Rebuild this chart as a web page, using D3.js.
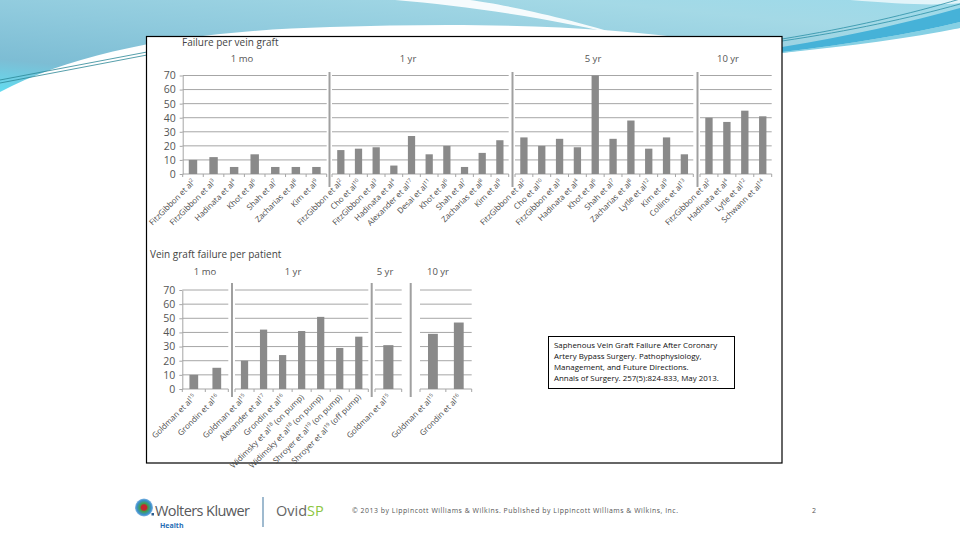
<!DOCTYPE html>
<html><head><meta charset="utf-8">
<script src="https://cdn.jsdelivr.net/npm/d3@7"></script>
<style>body{margin:0;background:#fff}svg{display:block}</style>
</head><body><svg id="c" width="960" height="540"></svg>
<script>
// ---------- DATA ----------
const yTicks = [0, 10, 20, 30, 40, 50, 60, 70];

const graftTitle = "Failure per vein graft";
const graftPanels = ["1 mo", "1 yr", "5 yr", "10 yr"];
const graft1moLabels = ["FitzGibbon et al^2", "FitzGibbon et al^3", "Hadinata et al^4", "Khot et al^6", "Shah et al^7", "Zacharias et al^8", "Kim et al^9"];
const graft1moValues = [10, 12, 5, 14, 5, 5, 5];
const graft1yrLabels = ["FitzGibbon et al^2", "Cho et al^10", "FitzGibbon et al^3", "Hadinata et al^4", "Alexander et al^17", "Desai et al^11", "Khot et al^6", "Shah et al^7", "Zacharias et al^8", "Kim et al^9"];
const graft1yrValues = [17, 18, 19, 6, 27, 14, 20, 5, 15, 24];
const graft5yrLabels = ["FitzGibbon et al^2", "Cho et al^10", "FitzGibbon et al^3", "Hadinata et al^4", "Khot et al^6", "Shah et al^7", "Zacharias et al^8", "Lytle et al^12", "Kim et al^9", "Collins et al^13"];
const graft5yrValues = [26, 20, 25, 19, 70, 25, 38, 18, 26, 14];
const graft10yrLabels = ["FitzGibbon et al^2", "Hadinata et al^4", "Lytle et al^12", "Schwann et al^14"];
const graft10yrValues = [40, 37, 45, 41];

const patientTitle = "Vein graft failure per patient";
const patientPanels = ["1 mo", "1 yr", "5 yr", "10 yr"];
const patient1moLabels = ["Goldman et al^15", "Grondin et al^16"];
const patient1moValues = [10, 15];
const patient1yrLabels = ["Goldman et al^15", "Alexander et al^17", "Grondin et al^16", "Widimsky et al^18 (on pump)", "Widimsky et al^18 (on pump)", "Shroyer et al^19 (on pump)", "Shroyer et al^19 (off pump)"];
const patient1yrValues = [20, 42, 24, 41, 51, 29, 37];
const patient5yrLabels = ["Goldman et al^15"];
const patient5yrValues = [31];
const patient10yrLabels = ["Goldman et al^15", "Grondin et al^16"];
const patient10yrValues = [39, 47];

const captionLines = [
  "Saphenous Vein Graft Failure After Coronary",
  "Artery Bypass Surgery. Pathophysiology,",
  "Management, and Future Directions.",
  "Annals of Surgery. 257(5):824-833, May 2013."
];
const copyrightText = "\u00A9 2013 by Lippincott Williams & Wilkins.  Published by Lippincott Williams & Wilkins, Inc.";
const pageNumber = "2";

// ---------- DRAW ----------
const svg = d3.select("#c");
const defs = svg.append("defs");
const FONT = "'Open Sans', 'Noto Sans', sans-serif";

// Header gradient
const hg = defs.append("linearGradient").attr("id", "hdr").attr("x1", "0").attr("y1", "1").attr("x2", "1").attr("y2", "0");
hg.append("stop").attr("offset", "0").attr("stop-color", "#62dcf0");
hg.append("stop").attr("offset", "0.18").attr("stop-color", "#7dbdd4");
hg.append("stop").attr("offset", "0.45").attr("stop-color", "#8fcadd");
hg.append("stop").attr("offset", "0.8").attr("stop-color", "#a4d9e6");
hg.append("stop").attr("offset", "1").attr("stop-color", "#9cdaea");

svg.append("path")
  .attr("d", "M0,0 H960 V28 C920,33 870,42 820,48 C800,50 790,52 782,53 L700,40 C600,26 480,22 330,27 C190,31 80,50 0,92 Z")
  .attr("fill", "url(#hdr)");
// white swoosh top middle
svg.append("path")
  .attr("d", "M395,0 C470,6 560,20 632,38 C560,16 500,4 470,0 Z")
  .attr("fill", "#fff").attr("opacity", 0.9);
// top right white streak
svg.append("path")
  .attr("d", "M850,0 C900,4 935,6 960,3 V0 Z").attr("fill", "#fff").attr("opacity", 0.7);
// dark blue swoosh right
svg.append("path")
  .attr("d", "M782,47 C850,36 910,22 960,8 V22 C910,34 850,44 782,52 Z")
  .attr("fill", "#46b2d8");
svg.append("path")
  .attr("d", "M782,52 C850,44 910,34 960,22 V28 C910,38 850,46 782,53 Z")
  .attr("fill", "#86d0e4");
// thin lines
[[0, 80, 147, 52], [0, 83, 147, 55]].forEach(l => svg.append("line").attr("x1", l[0]).attr("y1", l[1]).attr("x2", l[2]).attr("y2", l[3]).attr("stroke", "#2b8796").attr("stroke-width", 0.8));
svg.append("path").attr("d", "M782,39 C850,28 910,14 960,-1").attr("fill", "none").attr("stroke", "#2b8fa6").attr("stroke-width", 0.8);
svg.append("path").attr("d", "M782,41 C850,31 910,18 960,4").attr("fill", "none").attr("stroke", "#2b8fa6").attr("stroke-width", 0.8);

// Figure frame
svg.append("rect").attr("x", 146.5).attr("y", 36.5).attr("width", 635.5).attr("height", 426.5)
  .attr("fill", "#fff").attr("stroke", "#000").attr("stroke-width", 1.2);

const GRID = "#a6a6a6", BAR = "#8a8a8a", TXT = "#555", LBL = "#4a4a4a";

function addLabel(g, s, x, y, angle, size) {
  const m = s.match(/^(.*?)\^(\d+)(.*)$/);
  const t = g.append("text")
    .attr("transform", `translate(${x},${y}) rotate(${angle})`)
    .attr("text-anchor", "end").attr("font-family", FONT).attr("font-size", size).attr("fill", LBL)
    .attr("dy", "0.3em");
  if (m) {
    t.append("tspan").text(m[1]);
    t.append("tspan").attr("font-size", size * 0.65).attr("dy", -size * 0.4).text(m[2]);
    if (m[3]) t.append("tspan").attr("dy", size * 0.4).text(m[3]);
  } else t.text(s);
}

function drawChart(cfg) {
  const y = d3.scaleLinear().domain([0, 70]).range(cfg.yRange);
  const g = svg.append("g");
  g.append("text").attr("x", cfg.titleX).attr("y", cfg.titleY).text(cfg.title)
    .attr("font-family", FONT).attr("font-size", 10).attr("fill", "#444");

  cfg.panels.forEach(p => {
    const n = p.labels.length;
    const x = d3.scaleBand().domain(d3.range(n)).range([p.x0, p.x1]).paddingInner(cfg.pad).paddingOuter(cfg.pad / 2);
    const step = x.step();
    g.selectAll(null).data(yTicks).join("line")
      .attr("x1", p.x0).attr("x2", p.x1).attr("y1", d => y(d)).attr("y2", d => y(d))
      .attr("stroke", GRID).attr("stroke-width", 1);
    g.selectAll(null).data(d3.range(n + 1)).join("line")
      .attr("x1", i => p.x0 + i * step).attr("x2", i => p.x0 + i * step)
      .attr("y1", y(0)).attr("y2", y(0) + 3)
      .attr("stroke", GRID).attr("stroke-width", 1);
    g.selectAll(null).data(p.values).join("rect")
      .attr("x", (d, i) => x(i)).attr("width", x.bandwidth())
      .attr("y", d => y(d)).attr("height", d => y(0) - y(d))
      .attr("fill", BAR);
    p.labels.forEach((s, i) => addLabel(g, s, x(i) + x.bandwidth() / 2 + 1, y(0) + 7, cfg.angle, cfg.labelSize));
    g.append("text").attr("x", p.titleX).attr("y", cfg.panelTitleY).attr("text-anchor", "middle")
      .attr("font-family", FONT).attr("font-size", 9.5).attr("fill", TXT).text(p.title);
  });
  cfg.dividers.forEach(dx => g.append("line").attr("x1", dx).attr("x2", dx)
    .attr("y1", cfg.divY[0]).attr("y2", cfg.divY[1]).attr("stroke", "#a0a0a0").attr("stroke-width", 2));
  const ax = g.append("g").attr("transform", `translate(${cfg.panels[0].x0},0)`)
    .call(d3.axisLeft(y).tickValues(yTicks).tickSize(3).tickPadding(4).tickSizeOuter(0));
  ax.select(".domain").attr("stroke", GRID);
  ax.selectAll(".tick line").attr("stroke", GRID);
  ax.selectAll(".tick text").attr("font-family", FONT).attr("font-size", 10.5).attr("fill", TXT);
}

drawChart({
  title: graftTitle, titleX: 182, titleY: 46,
  yRange: [174, 75.5], pad: 0.59, angle: -45, labelSize: 8, panelTitleY: 62,
  divY: [72, 187], dividers: [329.5, 512.5, 697.5],
  panels: [
    { title: graftPanels[0], titleX: 242, x0: 182.7, x1: 326.7, labels: graft1moLabels, values: graft1moValues },
    { title: graftPanels[1], titleX: 408, x0: 332, x1: 508.7, labels: graft1yrLabels, values: graft1yrValues },
    { title: graftPanels[2], titleX: 593, x0: 515, x1: 693.3, labels: graft5yrLabels, values: graft5yrValues },
    { title: graftPanels[3], titleX: 728, x0: 700, x1: 771.7, labels: graft10yrLabels, values: graft10yrValues }
  ]
});

drawChart({
  title: patientTitle, titleX: 150, titleY: 257.5,
  yRange: [389, 290], pad: 0.62, angle: -45, labelSize: 8, panelTitleY: 275,
  divY: [283, 397], dividers: [232, 371.7, 410.7],
  panels: [
    { title: patientPanels[0], titleX: 205, x0: 182.3, x1: 228.3, labels: patient1moLabels, values: patient1moValues },
    { title: patientPanels[1], titleX: 293, x0: 235, x1: 368.3, labels: patient1yrLabels, values: patient1yrValues },
    { title: patientPanels[2], titleX: 385, x0: 375, x1: 401.7, labels: patient5yrLabels, values: patient5yrValues },
    { title: patientPanels[3], titleX: 438, x0: 420, x1: 471.7, labels: patient10yrLabels, values: patient10yrValues }
  ]
});

// Caption box
svg.append("rect").attr("x", 548.5).attr("y", 336.5).attr("width", 186).attr("height", 52)
  .attr("fill", "#fff").attr("stroke", "#000").attr("stroke-width", 1);
svg.selectAll(null).data(captionLines).join("text")
  .attr("x", 554).attr("y", (d, i) => 347.5 + i * 11)
  .attr("font-family", FONT).attr("font-size", 7.9).attr("fill", "#111").text(d => d);

// Footer: logo
const lg = defs.append("radialGradient").attr("id", "globe");
lg.append("stop").attr("offset", "0").attr("stop-color", "#c4262e");
lg.append("stop").attr("offset", "0.3").attr("stop-color", "#c4262e");
lg.append("stop").attr("offset", "0.45").attr("stop-color", "#3f9f4a");
lg.append("stop").attr("offset", "0.8").attr("stop-color", "#3c8fcf");
lg.append("stop").attr("offset", "1").attr("stop-color", "#86b8e0");
svg.append("circle").attr("cx", 144).attr("cy", 507.5).attr("r", 9).attr("fill", "url(#globe)");
svg.append("rect").attr("x", 151.5).attr("y", 513).attr("width", 2.5).attr("height", 2.5).attr("fill", "#2b5d8f");
svg.append("text").attr("x", 155).attr("y", 516).attr("font-family", FONT).attr("font-size", 14.5)
  .attr("fill", "#58595b").attr("textLength", 95).text("Wolters Kluwer");
svg.append("text").attr("x", 160).attr("y", 528).attr("font-family", FONT).attr("font-size", 7)
  .attr("font-weight", "bold").attr("fill", "#1f6db4").text("Health");
svg.append("line").attr("x1", 263).attr("x2", 263).attr("y1", 497).attr("y2", 527).attr("stroke", "#7fa3bf").attr("stroke-width", 1.5);
const ov = svg.append("text").attr("x", 276).attr("y", 516).attr("font-family", FONT).attr("font-size", 14.5);
ov.append("tspan").attr("fill", "#666").text("Ovid");
ov.append("tspan").attr("fill", "#8cc63f").text("SP");

svg.append("text").attr("x", 352).attr("y", 513).attr("font-family", FONT).attr("font-size", 6.9)
  .attr("fill", "#555").attr("textLength", 326).attr("lengthAdjust", "spacing").text(copyrightText);
svg.append("text").attr("x", 812).attr("y", 513).attr("font-family", FONT).attr("font-size", 7)
  .attr("fill", "#555").text(pageNumber);
</script>
</body></html>
